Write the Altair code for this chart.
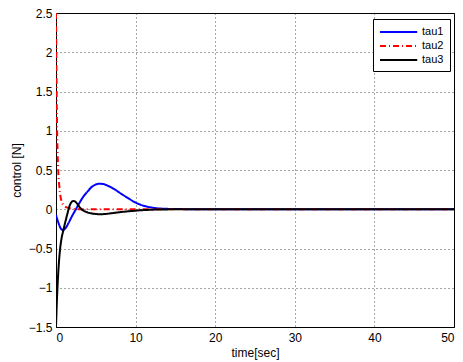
import altair as alt
import pandas as pd

series_names = ["tau1", "tau2", "tau3"]
series_colors = ["#0000ff", "#ff0000", "#000000"]

t_tau1 = [0, 0.3, 0.6, 0.85, 1.2, 1.6, 2.0, 2.5, 3.0, 3.5, 4.0, 4.5, 5.0, 5.5, 6.0, 6.5,
          7.0, 7.5, 8.0, 9.0, 10.0, 11.0, 12.0, 13.0, 14.0, 15.0, 17.0, 20.0, 50.0]
v_tau1 = [-0.07, -0.17, -0.245, -0.265, -0.24, -0.17, -0.09, 0.0, 0.09, 0.17, 0.23, 0.285,
          0.315, 0.325, 0.32, 0.30, 0.275, 0.245, 0.21, 0.145, 0.085, 0.045, 0.022, 0.010,
          0.005, 0.003, 0.001, 0.0, 0.0]

t_tau2 = [0, 0.03, 0.06, 0.1, 0.15, 0.2, 0.3, 0.42, 0.55, 0.7, 0.92, 1.2, 1.6, 2.2, 3.0, 50.0]
v_tau2 = [2.5, 2.1, 1.7, 1.3, 0.95, 0.72, 0.45, 0.29, 0.17, 0.10, 0.055, 0.03, 0.015, 0.005, 0.0, 0.0]

t_tau3 = [0, 0.1, 0.17, 0.3, 0.5, 0.7, 0.92, 1.15, 1.35, 1.68, 1.9, 2.2, 2.5, 2.8, 3.2, 3.7,
          4.3, 5.0, 5.5, 6.0, 7.0, 8.0, 9.0, 10.0, 11.0, 12.0, 13.0, 15.0, 17.0, 50.0]
v_tau3 = [-1.5, -1.2, -1.03, -0.78, -0.52, -0.37, -0.27, -0.17, -0.09, 0.035, 0.085, 0.106,
          0.09, 0.05, 0.0, -0.03, -0.05, -0.06, -0.064, -0.062, -0.05, -0.037, -0.027, -0.018,
          -0.011, -0.006, -0.003, -0.001, 0.0, 0.0]

x_ticks = [0, 10, 20, 30, 40, 50]
y_ticks = [-1.5, -1, -0.5, 0, 0.5, 1, 1.5, 2, 2.5]

rows = []
for name, ts, vs in zip(series_names, [t_tau1, t_tau2, t_tau3], [v_tau1, v_tau2, v_tau3]):
    for t, v in zip(ts, vs):
        rows.append({"time": t, "value": v, "series": name})
df = pd.DataFrame(rows)

FONT = "Liberation Sans"

chart = alt.Chart(df).mark_line(strokeWidth=2, interpolate="monotone", clip=True).encode(
    x=alt.X("time:Q",
            scale=alt.Scale(domain=[0, 50], nice=False, zero=False),
            axis=alt.Axis(title="time[sec]", values=x_ticks, format="d",
                          titleX=199, titleY=25, titleBaseline="middle", titleAlign="center")),
    y=alt.Y("value:Q",
            scale=alt.Scale(domain=[-1.5, 2.5], nice=False, zero=False),
            axis=alt.Axis(title="control [N]", values=y_ticks, format="~g",
                          titleX=-40, titleY=157, titleBaseline="middle", titleAlign="center",
                          titleAngle=-90)),
    color=alt.Color("series:N",
                    scale=alt.Scale(domain=series_names, range=series_colors),
                    legend=alt.Legend(title=None)),
    strokeDash=alt.StrokeDash("series:N",
                              scale=alt.Scale(domain=series_names,
                                              range=[[1, 0], [6, 3, 1, 3], [1, 0]]),
                              legend=alt.Legend(title=None)),
).properties(
    width=398,
    height=314,
    autosize=alt.AutoSizeParams(type="none"),
    padding={"left": 48, "top": 5, "right": 1, "bottom": 33},
).configure_view(
    stroke="#000000", strokeWidth=1
).configure_axis(
    labelFont=FONT, titleFont=FONT, labelFontSize=12, titleFontSize=12,
    labelColor="#000000", titleColor="#000000", titleFontWeight="normal",
    domainColor="#000000", ticks=False, labelPadding=4,
    grid=True, gridColor="#000000", gridDash=[1, 3], gridOpacity=0.7, gridWidth=1,
).configure_axisX(
    labelPadding=5
).configure_legend(
    orient="none", legendX=317, legendY=6,
    strokeColor="#000000", fillColor="#ffffff", padding=6,
    symbolType="M-1,0H5.2", symbolStrokeWidth=2, symbolSize=144,
    labelFont=FONT, labelFontSize=11, labelColor="#000000", labelOffset=29,
    rowPadding=2,
)

chart.save("out.html", embed_options={"renderer": "svg", "actions": False})
